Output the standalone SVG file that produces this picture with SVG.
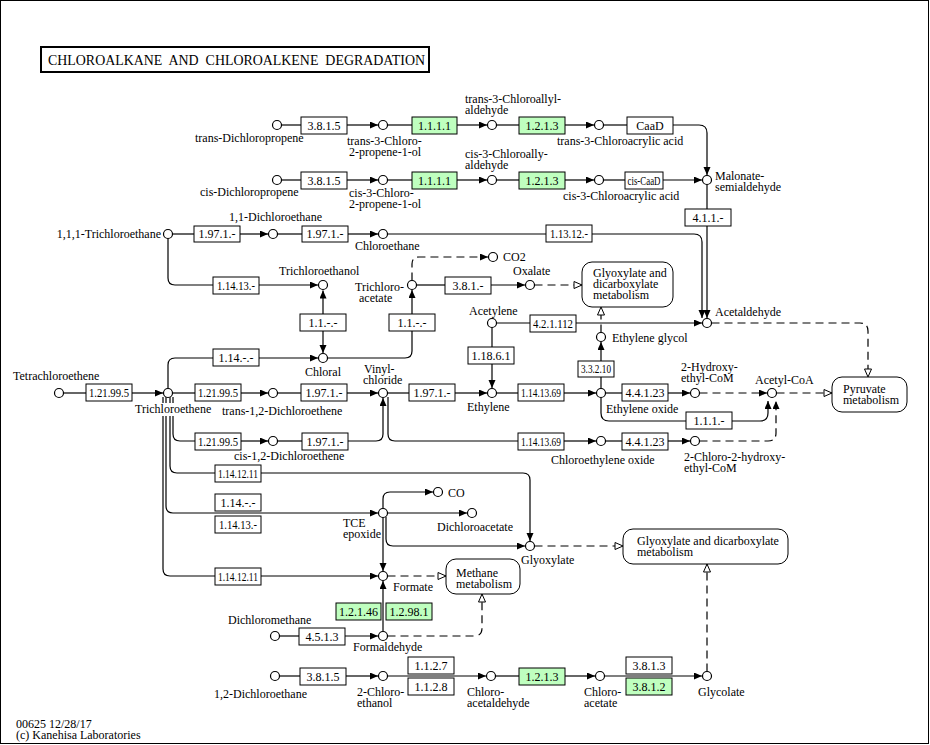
<svg xmlns="http://www.w3.org/2000/svg" width="930" height="745" viewBox="0 0 930 745" font-family="'Liberation Serif', 'Times New Roman', serif">
<style>
text{font-family:"Liberation Serif","Times New Roman",serif;font-size:12px;fill:#000}
.c{fill:#fff;stroke:#000;stroke-width:1.2}
.e{fill:#fff;stroke:#000;stroke-width:1}
.g{fill:#bfffbf;stroke:#000;stroke-width:1}
.m{fill:#fff;stroke:#000;stroke-width:1}
.et{text-anchor:middle}
.bg{fill:#fff;stroke:none}
#connectors path{fill:none;stroke:#000;stroke-width:1.2}
#connectors .d{stroke-dasharray:8 5}
#connectors .a{marker-end:url(#ar)}
#connectors .o{marker-end:url(#op)}
</style>
<defs>
<marker id="ar" markerWidth="10" markerHeight="9" refX="8" refY="3.5" orient="auto" markerUnits="userSpaceOnUse"><path d="M0,0 L8,3.5 L0,7 z" fill="#000"/></marker>
<marker id="op" markerWidth="11" markerHeight="10" refX="9" refY="4.5" orient="auto" markerUnits="userSpaceOnUse"><path d="M1,1 L9,4.5 L1,8 z" fill="#fff" stroke="#000" stroke-width="1"/></marker>
</defs>
<rect x="0.5" y="0.5" width="928" height="743" fill="#fff" stroke="#000" stroke-width="1"/>
<g id="title"><rect x="41" y="47" width="388" height="25" fill="#fff" stroke="#000" stroke-width="2"/><text x="48" y="65" textLength="377" lengthAdjust="spacingAndGlyphs" xml:space="preserve" style="font-size:15px">CHLOROALKANE  AND  CHLOROALKENE  DEGRADATION</text></g>

<g id="connectors">
<path d="M281.5,125H301"/><path class="a" d="M347,125H378"/><path d="M387.5,125H412"/><path class="a" d="M457,125H487"/><path d="M496.5,125H519"/><path class="a" d="M565,125H594"/><path d="M603.5,125H627"/><path class="a" d="M673,125H699Q707,125 707,133V175"/>
<path d="M281.5,180H301"/><path class="a" d="M347,180H378"/><path d="M387.5,180H412"/><path class="a" d="M457,180H487"/><path d="M496.5,180H519"/><path class="a" d="M565,180H594"/><path d="M603.5,180H625"/><path class="a" d="M663,180H702"/>
<path class="a" d="M707,184.5V318"/>
<path d="M172.5,234H194"/><path class="a" d="M240,234H268"/><path d="M277.5,234H302"/><path class="a" d="M348,234H378"/><path class="a" d="M387.5,234H694Q702,234 702,242V318"/>
<path d="M168,238.5V278Q168,285 175,285H213"/><path class="a" d="M259,285H318"/>
<path class="a" d="M323,314V290.5"/><path class="a" d="M323,331V353"/>
<path d="M168,388.5V365Q168,358 175,358H213"/><path class="a" d="M259,358H318"/>
<path d="M327.5,358H405Q412,358 412,351V331"/><path class="a" d="M412,314V290"/>
<path d="M416.5,285H445"/><path class="a" d="M491,285H525"/>
<path class="a d" d="M412,280.5V264Q412,257 419,257H488"/>
<path class="o d" d="M534.5,285H582"/>
<path d="M496.5,323H530"/><path class="a" d="M576,323H702"/>
<path d="M492,327.5V347"/><path class="a" d="M492,364V388"/>
<path d="M63.5,393H86"/><path class="a" d="M132,393H163"/>
<path d="M172.5,393H195"/><path class="a" d="M241,393H268"/><path d="M277.5,393H301"/><path class="a" d="M347,393H378"/>
<path d="M387.5,393H409"/><path class="a" d="M455,393H487"/>
<path d="M496.5,393H518"/><path class="a" d="M564,393H596"/>
<path d="M601,388.5V377"/><path class="a" d="M601,361V342"/>
<path class="o d" d="M601,332.5V307"/>
<path d="M605.5,393H622"/><path class="a" d="M668,393H690"/>
<path class="a d" d="M699.5,393H767"/>
<path d="M601,397.5V413Q601,421 609,421H686"/><path class="a" d="M732,421H760Q768,421 768,413V401"/>
<path class="o d" d="M776.5,393H832"/>
<path class="o d" d="M711.5,323H860Q868,323 868,331V377"/>
<path class="a d" d="M699.5,441H768Q776,441 776,433V401"/>
<path d="M173,397V434Q173,441 180,441H195"/><path class="a" d="M241,441H268"/><path d="M277.5,441H302"/><path class="a" d="M348,441H376Q383,441 383,434V398"/>
<path d="M388,397V434Q388,441 395,441H518"/><path class="a" d="M564,441H596"/><path d="M605.5,441H622"/><path class="a" d="M668,441H690"/>
<path d="M170,397V466Q170,473 177,473H215"/><path class="a" d="M261,473H523Q530,473 530,480V541"/>
<path class="a" d="M166,397V506Q166,513 173,513H378"/>
<path d="M163,397V569Q163,576 170,576H215"/><path class="a" d="M261,576H378"/>
<path class="a" d="M383,508.5V499Q383,492 390,492H433"/>
<path class="a" d="M387.5,513H467"/>
<path class="a" d="M386,517V539Q386,546 393,546H525"/>
<path class="a" d="M383,517.5V571"/>
<path class="o d" d="M387.5,576H446"/>
<path class="a" d="M383,631.5V581"/>
<path class="o d" d="M387.5,636H474Q482,636 482,628V594"/>
<path d="M279.5,636H299"/><path class="a" d="M345,636H378"/>
<path d="M279.5,676H300"/><path class="a" d="M346,676H378"/><path class="a" d="M387.5,676H486"/><path d="M495.5,676H519"/><path class="a" d="M565,676H595"/><path class="a" d="M604.5,676H702"/>
<path class="o d" d="M707,671.5V564"/>
<path class="o d" d="M534.5,546H623"/>
</g>

<g id="maps">
<g id="map-glyoxylate-1"><rect class="m" x="582" y="262" width="91" height="45" rx="10"/><text x="593" y="277">Glyoxylate and</text><text x="593" y="288">dicarboxylate</text><text x="593" y="299">metabolism</text></g>
<g id="map-pyruvate"><rect class="m" x="832" y="377" width="75" height="35" rx="10"/><text x="843" y="393">Pyruvate</text><text x="843" y="404">metabolism</text></g>
<g id="map-methane"><rect class="m" x="446" y="559" width="74" height="35" rx="10"/><text x="456" y="577">Methane</text><text x="456" y="588">metabolism</text></g>
<g id="map-glyoxylate-2"><rect class="m" x="623" y="529" width="165" height="35" rx="10"/><text x="637" y="545">Glyoxylate and dicarboxylate</text><text x="637" y="556">metabolism</text></g>
</g>

<g id="enzymes">
<g id="e1"><rect class="e" x="301" y="117" width="46" height="17"/><text class="et" x="324" y="130">3.8.1.5</text></g>
<g id="e2"><rect class="g" x="412" y="117" width="45" height="17"/><text class="et" x="434.5" y="130">1.1.1.1</text></g>
<g id="e3"><rect class="g" x="519" y="117" width="46" height="17"/><text class="et" x="542" y="130">1.2.1.3</text></g>
<g id="e4"><rect class="e" x="627" y="117" width="46" height="17"/><text class="et" x="650" y="130">CaaD</text></g>
<g id="e5"><rect class="e" x="301" y="172" width="46" height="17"/><text class="et" x="324" y="185">3.8.1.5</text></g>
<g id="e6"><rect class="g" x="412" y="172" width="45" height="17"/><text class="et" x="434.5" y="185">1.1.1.1</text></g>
<g id="e7"><rect class="g" x="519" y="172" width="46" height="17"/><text class="et" x="542" y="185">1.2.1.3</text></g>
<g id="e8"><rect class="e" x="625" y="172" width="38" height="17"/><text class="et" x="644" y="185" textLength="33" lengthAdjust="spacingAndGlyphs">cis-CaaD</text></g>
<g id="e9"><rect class="e" x="685" y="209" width="46" height="17"/><text class="et" x="708" y="222">4.1.1.-</text></g>
<g id="e10"><rect class="e" x="194" y="226" width="46" height="16"/><text class="et" x="217" y="238">1.97.1.-</text></g>
<g id="e11"><rect class="e" x="302" y="226" width="46" height="16"/><text class="et" x="325" y="238">1.97.1.-</text></g>
<g id="e12"><rect class="e" x="546" y="225" width="46" height="17"/><text class="et" x="569" y="238" textLength="38" lengthAdjust="spacingAndGlyphs">1.13.12.-</text></g>
<g id="e13"><rect class="e" x="213" y="277" width="46" height="17"/><text class="et" x="236" y="290" textLength="38" lengthAdjust="spacingAndGlyphs">1.14.13.-</text></g>
<g id="e14"><rect class="e" x="445" y="277" width="46" height="17"/><text class="et" x="468" y="290">3.8.1.-</text></g>
<g id="e15"><rect class="e" x="300" y="314" width="46" height="17"/><text class="et" x="323" y="327">1.1.-.-</text></g>
<g id="e16"><rect class="e" x="389" y="314" width="46" height="17"/><text class="et" x="412" y="327">1.1.-.-</text></g>
<g id="e17"><rect class="e" x="530" y="315" width="46" height="17"/><text class="et" x="553" y="328" textLength="40" lengthAdjust="spacingAndGlyphs">4.2.1.112</text></g>
<g id="e18"><rect class="e" x="213" y="349" width="46" height="17"/><text class="et" x="236" y="362">1.14.-.-</text></g>
<g id="e19"><rect class="e" x="468" y="347" width="46" height="17"/><text class="et" x="491" y="360">1.18.6.1</text></g>
<g id="e20"><rect class="e" x="578" y="361" width="36" height="16"/><text class="et" x="596" y="373" textLength="30" lengthAdjust="spacingAndGlyphs">3.3.2.10</text></g>
<g id="e21"><rect class="e" x="86" y="384" width="46" height="17"/><text class="et" x="109" y="397" textLength="40" lengthAdjust="spacingAndGlyphs">1.21.99.5</text></g>
<g id="e22"><rect class="e" x="195" y="384" width="46" height="17"/><text class="et" x="218" y="397" textLength="40" lengthAdjust="spacingAndGlyphs">1.21.99.5</text></g>
<g id="e23"><rect class="e" x="301" y="384" width="46" height="17"/><text class="et" x="324" y="397">1.97.1.-</text></g>
<g id="e24"><rect class="e" x="409" y="384" width="46" height="17"/><text class="et" x="432" y="397">1.97.1.-</text></g>
<g id="e25"><rect class="e" x="518" y="384" width="46" height="17"/><text class="et" x="541" y="397" textLength="40" lengthAdjust="spacingAndGlyphs">1.14.13.69</text></g>
<g id="e26"><rect class="e" x="622" y="384" width="46" height="17"/><text class="et" x="645" y="397">4.4.1.23</text></g>
<g id="e27"><rect class="e" x="686" y="412" width="46" height="17"/><text class="et" x="709" y="425">1.1.1.-</text></g>
<g id="e28"><rect class="e" x="195" y="433" width="46" height="17"/><text class="et" x="218" y="446" textLength="40" lengthAdjust="spacingAndGlyphs">1.21.99.5</text></g>
<g id="e29"><rect class="e" x="302" y="433" width="46" height="17"/><text class="et" x="325" y="446">1.97.1.-</text></g>
<g id="e30"><rect class="e" x="518" y="433" width="46" height="17"/><text class="et" x="541" y="446" textLength="40" lengthAdjust="spacingAndGlyphs">1.14.13.69</text></g>
<g id="e31"><rect class="e" x="622" y="433" width="46" height="17"/><text class="et" x="645" y="446">4.4.1.23</text></g>
<g id="e32"><rect class="e" x="215" y="465" width="46" height="17"/><text class="et" x="238" y="478" textLength="40" lengthAdjust="spacingAndGlyphs">1.14.12.11</text></g>
<g id="e33"><rect class="e" x="215" y="494" width="46" height="17"/><text class="et" x="238" y="507">1.14.-.-</text></g>
<g id="e34"><rect class="e" x="215" y="516" width="46" height="17"/><text class="et" x="238" y="529" textLength="38" lengthAdjust="spacingAndGlyphs">1.14.13.-</text></g>
<g id="e35"><rect class="e" x="215" y="568" width="46" height="17"/><text class="et" x="238" y="581" textLength="40" lengthAdjust="spacingAndGlyphs">1.14.12.11</text></g>
<g id="e36"><rect class="g" x="336" y="603" width="45" height="17"/><text class="et" x="358.5" y="616">1.2.1.46</text></g>
<g id="e37"><rect class="g" x="386" y="603" width="46" height="17"/><text class="et" x="409" y="616">1.2.98.1</text></g>
<g id="e38"><rect class="e" x="299" y="628" width="46" height="17"/><text class="et" x="322" y="641">4.5.1.3</text></g>
<g id="e39"><rect class="e" x="300" y="668" width="46" height="17"/><text class="et" x="323" y="681">3.8.1.5</text></g>
<g id="e40"><rect class="e" x="408" y="657" width="46" height="17"/><text class="et" x="431" y="670">1.1.2.7</text></g>
<g id="e41"><rect class="e" x="408" y="678" width="46" height="17"/><text class="et" x="431" y="691">1.1.2.8</text></g>
<g id="e42"><rect class="g" x="519" y="668" width="46" height="17"/><text class="et" x="542" y="681">1.2.1.3</text></g>
<g id="e43"><rect class="e" x="626" y="657" width="46" height="17"/><text class="et" x="649" y="670">3.8.1.3</text></g>
<g id="e44"><rect class="g" x="626" y="678" width="46" height="17"/><text class="et" x="649" y="691">3.8.1.2</text></g>
</g>

<g id="compounds">
<g id="c1"><circle class="c" cx="277" cy="125" r="4.5"/><text x="195" y="142">trans-Dichloropropene</text></g>
<g id="c2"><circle class="c" cx="383" cy="125" r="4.5"/><text x="347" y="145">trans-3-Chloro-</text><text x="349" y="156">2-propene-1-ol</text></g>
<g id="c3"><circle class="c" cx="492" cy="125" r="4.5"/><text x="465" y="103">trans-3-Chloroallyl-</text><text x="465" y="114">aldehyde</text></g>
<g id="c4"><circle class="c" cx="599" cy="125" r="4.5"/><text x="557" y="145">trans-3-Chloroacrylic acid</text></g>
<g id="c5"><circle class="c" cx="277" cy="180" r="4.5"/><text x="200" y="196">cis-Dichloropropene</text></g>
<g id="c6"><circle class="c" cx="383" cy="180" r="4.5"/><text x="349" y="197">cis-3-Chloro-</text><text x="349" y="208">2-propene-1-ol</text></g>
<g id="c7"><circle class="c" cx="492" cy="180" r="4.5"/><text x="465" y="158">cis-3-Chloroally-</text><text x="465" y="169">aldehyde</text></g>
<g id="c8"><circle class="c" cx="599" cy="180" r="4.5"/><text x="563" y="200">cis-3-Chloroacrylic acid</text></g>
<g id="c9"><circle class="c" cx="707" cy="180" r="4.5"/><text x="715" y="180">Malonate-</text><text x="715" y="191">semialdehyde</text></g>
<g id="c10"><circle class="c" cx="168" cy="234" r="4.5"/><text x="161" y="238" text-anchor="end">1,1,1-Trichloroethane</text></g>
<g id="c11"><circle class="c" cx="273" cy="234" r="4.5"/><text x="229" y="221">1,1-Dichloroethane</text></g>
<g id="c12"><circle class="c" cx="383" cy="234" r="4.5"/><text x="355" y="250">Chloroethane</text></g>
<g id="c13"><circle class="c" cx="323" cy="285" r="4.5"/><text x="279" y="275">Trichloroethanol</text></g>
<g id="c14"><circle class="c" cx="412" cy="285" r="4.5"/><text x="355" y="291">Trichloro-</text><text x="359" y="302">acetate</text></g>
<g id="c15"><circle class="c" cx="493" cy="257" r="4.5"/><text x="503" y="261">CO2</text></g>
<g id="c16"><circle class="c" cx="530" cy="285" r="4.5"/><text x="513" y="275">Oxalate</text></g>
<g id="c17"><circle class="c" cx="707" cy="323" r="4.5"/><text x="715" y="316">Acetaldehyde</text></g>
<g id="c18"><circle class="c" cx="492" cy="323" r="4.5"/><text x="469" y="315">Acetylene</text></g>
<g id="c19"><circle class="c" cx="323" cy="358" r="4.5"/><text x="305" y="376">Chloral</text></g>
<g id="c20"><circle class="c" cx="601" cy="337" r="4.5"/><text x="612" y="342">Ethylene glycol</text></g>
<g id="c21"><circle class="c" cx="59" cy="393" r="4.5"/><text x="13" y="380">Tetrachloroethene</text></g>
<g id="c22"><rect class="bg" x="135" y="403" width="76" height="13"/><circle class="c" cx="168" cy="393" r="4.5"/><text x="135" y="413">Trichloroethene</text></g>
<g id="c23"><circle class="c" cx="273" cy="393" r="4.5"/><text x="222" y="415">trans-1,2-Dichloroethene</text></g>
<g id="c24"><circle class="c" cx="383" cy="393" r="4.5"/><text x="364" y="373">Vinyl-</text><text x="363" y="384">chloride</text></g>
<g id="c25"><circle class="c" cx="492" cy="393" r="4.5"/><text x="467" y="411">Ethylene</text></g>
<g id="c26"><circle class="c" cx="601" cy="393" r="4.5"/><text x="606" y="413">Ethylene oxide</text></g>
<g id="c27"><circle class="c" cx="695" cy="393" r="4.5"/><text x="681" y="371">2-Hydroxy-</text><text x="681" y="382">ethyl-CoM</text></g>
<g id="c28"><circle class="c" cx="772" cy="393" r="4.5"/><text x="755" y="384">Acetyl-CoA</text></g>
<g id="c29"><circle class="c" cx="273" cy="441" r="4.5"/><text x="234" y="460">cis-1,2-Dichloroethene</text></g>
<g id="c30"><circle class="c" cx="601" cy="441" r="4.5"/><text x="551" y="464">Chloroethylene oxide</text></g>
<g id="c31"><circle class="c" cx="695" cy="441" r="4.5"/><text x="684" y="461">2-Chloro-2-hydroxy-</text><text x="684" y="472">ethyl-CoM</text></g>
<g id="c32"><circle class="c" cx="438" cy="492" r="4.5"/><text x="448" y="497">CO</text></g>
<g id="c33"><circle class="c" cx="383" cy="513" r="4.5"/><text x="343" y="527">TCE</text><text x="343" y="538">epoxide</text></g>
<g id="c34"><circle class="c" cx="472" cy="513" r="4.5"/><text x="437" y="531">Dichloroacetate</text></g>
<g id="c35"><circle class="c" cx="530" cy="546" r="4.5"/><text x="521" y="564">Glyoxylate</text></g>
<g id="c36"><circle class="c" cx="383" cy="576" r="4.5"/><text x="393" y="591">Formate</text></g>
<g id="c37"><circle class="c" cx="275" cy="636" r="4.5"/><text x="228" y="624">Dichloromethane</text></g>
<g id="c38"><circle class="c" cx="383" cy="636" r="4.5"/><text x="353" y="651">Formaldehyde</text></g>
<g id="c39"><circle class="c" cx="275" cy="676" r="4.5"/><text x="214" y="698">1,2-Dichloroethane</text></g>
<g id="c40"><circle class="c" cx="383" cy="676" r="4.5"/><text x="357" y="696">2-Chloro-</text><text x="357" y="707">ethanol</text></g>
<g id="c41"><circle class="c" cx="491" cy="676" r="4.5"/><text x="467" y="696">Chloro-</text><text x="467" y="707">acetaldehyde</text></g>
<g id="c42"><circle class="c" cx="600" cy="676" r="4.5"/><text x="584" y="696">Chloro-</text><text x="584" y="707">acetate</text></g>
<g id="c43"><circle class="c" cx="707" cy="676" r="4.5"/><text x="698" y="696">Glycolate</text></g>
</g>

<g id="footer"><text x="16" y="728">00625 12/28/17</text><text x="16" y="739">(c) Kanehisa Laboratories</text></g>
</svg>
